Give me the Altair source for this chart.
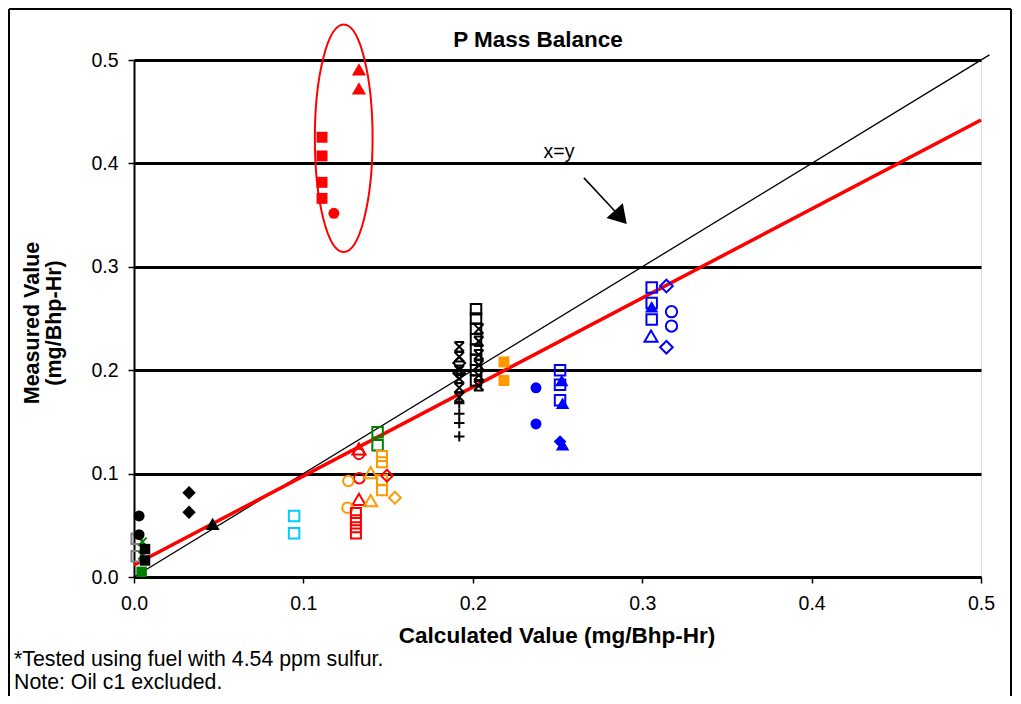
import altair as alt
import pandas as pd

# ---------------- data ----------------
black_circle_x = [0.003, 0.003]
black_circle_y = [0.059, 0.041]
gray_square_x = [0.0016, 0.0016]
gray_square_y = [0.037, 0.020]
green_x_x = [0.005, 0.005]
green_x_y = [0.034, 0.021]
black_fsquare_x = [0.0065, 0.0065]
black_fsquare_y = [0.027, 0.016]
green_fsquare_x = [0.0045]
green_fsquare_y = [0.005]
black_diamond_x = [0.0325, 0.0325]
black_diamond_y = [0.0815, 0.0626]
black_triangle_x = [0.0464]
black_triangle_y = [0.0513]
cyan_square_x = [0.0945, 0.0945]
cyan_square_y = [0.059, 0.0422]
green_square_x = [0.1438, 0.1438]
green_square_y = [0.140, 0.1274]
red_otriangle_x = [0.1328, 0.1328]
red_otriangle_y = [0.124, 0.075]
red_ocircle_x = [0.1328, 0.133]
red_ocircle_y = [0.119, 0.0954]
orange_osquare_x = [0.1464, 0.1464, 0.1464, 0.1464]
orange_osquare_y = [0.117, 0.111, 0.094, 0.084]
orange_otriangle_x = [0.1397, 0.1397]
orange_otriangle_y = [0.101, 0.0738]
red_odiamond_x = [0.1493]
red_odiamond_y = [0.098]
orange_odiamond_x = [0.154]
orange_odiamond_y = [0.0767]
orange_ocircle_x = [0.1265, 0.126]
orange_ocircle_y = [0.0928, 0.067]
red_osquare_x = [0.131, 0.131, 0.131, 0.131]
red_osquare_y = [0.062, 0.055, 0.048, 0.042]
black_star_x = [0.192, 0.192, 0.192, 0.192, 0.192, 0.192, 0.2035, 0.2035, 0.2035, 0.2035, 0.2035, 0.2035]
black_star_y = [0.2227, 0.213, 0.200, 0.192, 0.183, 0.174, 0.240, 0.228, 0.215, 0.205, 0.195, 0.185]
black_plus_x = [0.192, 0.192, 0.192, 0.192]
black_plus_y = [0.168, 0.158, 0.149, 0.136]
black_osquare_x = [0.2019, 0.2019, 0.2019, 0.2019, 0.2019, 0.2019, 0.2019, 0.2019]
black_osquare_y = [0.259, 0.25, 0.24, 0.23, 0.22, 0.21, 0.20, 0.19]
black_odiamond_x = [0.192, 0.192]
black_odiamond_y = [0.207, 0.197]
orange_fsquare_x = [0.2184, 0.2184]
orange_fsquare_y = [0.208, 0.19]
blue_fcircle_x = [0.2373, 0.2373]
blue_fcircle_y = [0.183, 0.148]
blue_osquare_x = [0.2515, 0.2515, 0.2515, 0.3056, 0.3056, 0.3056]
blue_osquare_y = [0.200, 0.186, 0.171, 0.280, 0.265, 0.249]
blue_ftriangle_x = [0.2525, 0.253, 0.253, 0.3056]
blue_ftriangle_y = [0.19, 0.168, 0.128, 0.2614]
blue_fdiamond_x = [0.2515]
blue_fdiamond_y = [0.131]
blue_otriangle_x = [0.3052]
blue_otriangle_y = [0.233]
blue_odiamond_x = [0.3143, 0.3143]
blue_odiamond_y = [0.2814, 0.2222]
blue_ocircle_x = [0.3173, 0.3173]
blue_ocircle_y = [0.2566, 0.2427]
red_ftriangle_x = [0.1328, 0.1328]
red_ftriangle_y = [0.491, 0.4726]
red_fsquare_x = [0.111, 0.111, 0.111, 0.111]
red_fsquare_y = [0.4253, 0.4072, 0.3817, 0.3662]
red_fcircle_x = [0.118]
red_fcircle_y = [0.3517]

xy_line_x = [0.0, 0.505]
xy_line_y = [0.0, 0.505]
fit_line_x = [0.0, 0.5]
fit_line_y = [0.0116, 0.442]

ellipse_x = [0.1238]
ellipse_y = [0.4243]
arrow_x = [0.2656]
arrow_y = [0.386]
arrow_x2 = [0.2864]
arrow_y2 = [0.3494]

tick_values = [0.0, 0.1, 0.2, 0.3, 0.4, 0.5]

# ---------------- styling ----------------
FONT = "Liberation Sans"
RED, BLUE, ORANGE, GREEN, CYAN, GRAY = "#FF0000", "#0000FF", "#FF9900", "#008000", "#00CCFF", "#808080"
X_PATH = "M-1,-1L1,1M-1,1L1,-1"
PLUS_PATH = "M-1,0L1,0M0,-1L0,1"
STAR_PATH = "M-1,-1L1,1M-1,1L1,-1M-1,-1L1,-1M-1,1L1,1"
ELLIPSE_PATH = "M0,-1A0.254,1 0 1,1 0,1A0.254,1 0 1,1 0,-1Z"
ARROW_PATH = "M0,-1L0.98,0.6L-0.98,0.6Z"

W, H = 847, 517

open_series = [
    (gray_square_x, gray_square_y, GRAY, "square", 110),
    (green_x_x, green_x_y, GREEN, X_PATH, 70),
    (cyan_square_x, cyan_square_y, CYAN, "square", 110),
    (green_square_x, green_square_y, GREEN, "square", 110),
    (red_otriangle_x, red_otriangle_y, RED, "triangle-up", 170),
    (red_ocircle_x, red_ocircle_y, RED, "circle", 110),
    (orange_osquare_x, orange_osquare_y, ORANGE, "square", 100),
    (orange_otriangle_x, orange_otriangle_y, ORANGE, "triangle-up", 170),
    (red_odiamond_x, red_odiamond_y, RED, "diamond", 140),
    (orange_odiamond_x, orange_odiamond_y, ORANGE, "diamond", 140),
    (orange_ocircle_x, orange_ocircle_y, ORANGE, "circle", 110),
    (red_osquare_x, red_osquare_y, RED, "square", 100),
    (black_star_x, black_star_y, "black", STAR_PATH, 90),
    (black_plus_x, black_plus_y, "black", PLUS_PATH, 110),
    (black_osquare_x, black_osquare_y, "black", "square", 110),
    (black_odiamond_x, black_odiamond_y, "black", "diamond", 140),
    (blue_osquare_x, blue_osquare_y, BLUE, "square", 110),
    (blue_otriangle_x, blue_otriangle_y, BLUE, "triangle-up", 170),
    (blue_odiamond_x, blue_odiamond_y, BLUE, "diamond", 160),
    (blue_ocircle_x, blue_ocircle_y, BLUE, "circle", 128),
]
filled_series = [
    (black_circle_x, black_circle_y, "black", "circle", 120),
    (black_fsquare_x, black_fsquare_y, "black", "square", 110),
    (green_fsquare_x, green_fsquare_y, GREEN, "square", 110),
    (black_diamond_x, black_diamond_y, "black", "diamond", 180),
    (black_triangle_x, black_triangle_y, "black", "triangle-up", 200),
    (orange_fsquare_x, orange_fsquare_y, ORANGE, "square", 120),
    (blue_fcircle_x, blue_fcircle_y, BLUE, "circle", 120),
    (blue_ftriangle_x, blue_ftriangle_y, BLUE, "triangle-up", 180),
    (blue_fdiamond_x, blue_fdiamond_y, BLUE, "diamond", 160),
    (red_ftriangle_x, red_ftriangle_y, RED, "triangle-up", 200),
    (red_fsquare_x, red_fsquare_y, RED, "square", 120),
    (red_fcircle_x, red_fcircle_y, RED, "circle", 120),
]


def to_df(series):
    rows = []
    for xs, ys, col, shp, sz in series:
        for xv, yv in zip(xs, ys):
            rows.append({"x": xv, "y": yv, "color": col, "shape": shp, "size": sz})
    return pd.DataFrame(rows)


open_df = to_df(open_series)
filled_df = to_df(filled_series)

xscale = alt.Scale(domain=[0, 0.5], nice=False, zero=False)
yscale = alt.Scale(domain=[0, 0.5], nice=False, zero=False)

x_axis = alt.Axis(values=tick_values, format=".1f", title=None, grid=False,
                  tickSize=6, labelPadding=11, labelFontSize=19.5, labelFont=FONT,
                  labelColor="black", domainColor="black", tickColor="black",
                  domainWidth=2, tickWidth=1.5, labelFlush=False)
y_axis = alt.Axis(values=tick_values, format=".1f", title=None, grid=True,
                  gridColor="black", gridWidth=3, gridOpacity=1,
                  tickSize=6, labelPadding=10, labelFontSize=19.5, labelFont=FONT,
                  labelColor="black", domainColor="black", tickColor="black",
                  domainWidth=2, tickWidth=1.5, labelFlush=False)


def X(field):
    return alt.X(field, type="quantitative", scale=xscale, axis=x_axis)


def Y(field):
    return alt.Y(field, type="quantitative", scale=yscale, axis=y_axis)


xy_line = alt.Chart(pd.DataFrame({"x": xy_line_x, "y": xy_line_y})).mark_line(
    color="black", strokeWidth=1.3).encode(x=X("x"), y=Y("y"))

fit_line = alt.Chart(pd.DataFrame({"x": fit_line_x, "y": fit_line_y})).mark_line(
    color=RED, strokeWidth=3.5).encode(x=X("x"), y=Y("y"))

open_pts = alt.Chart(open_df).mark_point(filled=False, strokeWidth=2, opacity=1).encode(
    x=X("x"), y=Y("y"),
    color=alt.Color("color:N", scale=None), shape=alt.Shape("shape:N", scale=None),
    size=alt.Size("size:Q", scale=None))

filled_pts = alt.Chart(filled_df).mark_point(filled=True, opacity=1, strokeWidth=0).encode(
    x=X("x"), y=Y("y"),
    color=alt.Color("color:N", scale=None), shape=alt.Shape("shape:N", scale=None),
    size=alt.Size("size:Q", scale=None))

ellipse = alt.Chart(pd.DataFrame({"x": ellipse_x, "y": ellipse_y})).mark_point(
    shape=ELLIPSE_PATH, size=51665, filled=False, stroke=RED, strokeWidth=2, opacity=1).encode(
    x=X("x"), y=Y("y"))

arrow_df = pd.DataFrame({"x": arrow_x, "y": arrow_y, "x2": arrow_x2, "y2": arrow_y2})
arrow_line = alt.Chart(arrow_df).mark_rule(color="black", strokeWidth=1.5).encode(
    x=X("x"), y=Y("y"), x2="x2:Q", y2="y2:Q")
arrow_head = alt.Chart(arrow_df).mark_point(
    shape=ARROW_PATH, size=506, filled=True, color="black", opacity=1, angle=138, strokeWidth=0).encode(
    x=X("x2"), y=Y("y2"))


def label(text, x, y, size, bold=False, align="center", baseline="alphabetic", angle=0):
    kw = dict(font=FONT, fontSize=size, color="black", align=align, baseline=baseline,
              fontWeight="bold" if bold else "normal")
    if angle:
        kw["angle"] = angle
    return alt.Chart(pd.DataFrame({"t": [text]})).mark_text(**kw).encode(
        text="t:N", x=alt.value(x), y=alt.value(y))


texts = [
    label("P Mass Balance", 404, -13, 22.5, bold=True),
    label("x=y", 425, 98, 19.5),
    label("Calculated Value (mg/Bhp-Hr)", 423, 583, 22.5, bold=True),
    label("Measured Value", -101, 263, 21.5, bold=True, baseline="middle", angle=270),
    label("(mg/Bhp-Hr)", -79, 263, 21.5, bold=True, baseline="middle", angle=270),
    label("*Tested using fuel with 4.54 ppm sulfur.", -120, 606, 21.3, align="left"),
    label("Note: Oil c1 excluded.", -120, 629, 21.3, align="left"),
]


def rule(x, y, x2, y2, w=2):
    return alt.Chart(pd.DataFrame({"a": [0]})).mark_rule(color="black", strokeWidth=w).encode(
        x=alt.value(x), y=alt.value(y), x2=alt.value(x2), y2=alt.value(y2))


frame = [
    rule(-125, -51, 877, -51),
    rule(-125, -51, -125, 640),
    rule(877, -51, 877, 640),
]

chart = alt.layer(xy_line, fit_line, open_pts, filled_pts, ellipse,
                  arrow_line, arrow_head, *texts, *frame).properties(
    width=W, height=H,
    padding={"left": 126, "top": 52, "right": 32, "bottom": 119},
    autosize=alt.AutoSizeParams(type="none"),
).configure_view(strokeOpacity=0, strokeWidth=0).configure(background="white")

chart.save("out.html", embed_options={"renderer": "svg", "actions": False})
